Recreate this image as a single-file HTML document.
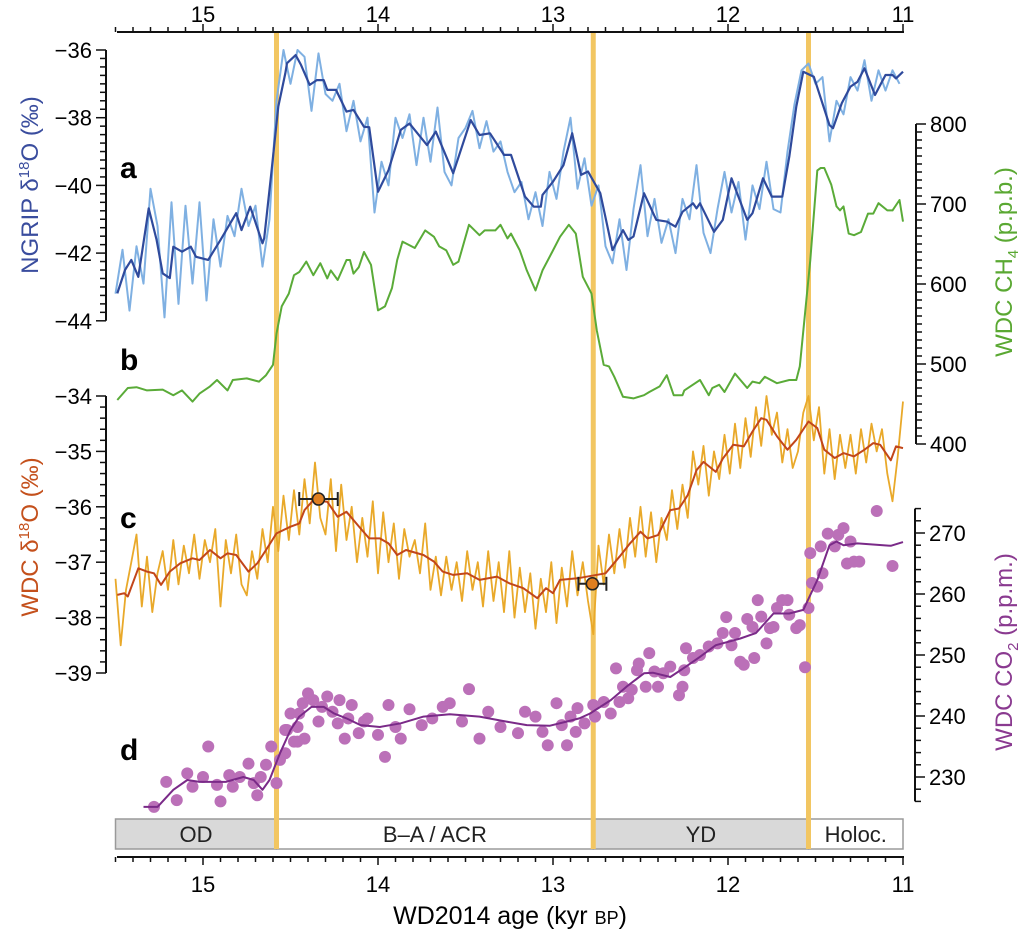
<!DOCTYPE html>
<html><head><meta charset="utf-8">
<style>
body{margin:0;background:#fff;}
svg{display:block;font-family:"Liberation Sans",Arial,sans-serif;}
</style></head>
<body>
<svg id="chart" width="1028" height="942" viewBox="0 0 1028 942" xmlns="http://www.w3.org/2000/svg">
<g id="bg"></g><g id="marks"></g><g id="axes"></g>
<text x="120" y="178" font-size="30" font-weight="bold">a</text>
<text x="120" y="370" font-size="30" font-weight="bold">b</text>
<text x="120" y="528" font-size="30" font-weight="bold">c</text>
<text x="120" y="760" font-size="30" font-weight="bold">d</text>
<text transform="translate(38,185) rotate(-90)" text-anchor="middle" font-size="24" fill="#3a4d9e">NGRIP δ<tspan font-size="15" dy="-9">18</tspan><tspan dy="9">O (‰)</tspan></text>
<text transform="translate(38,537) rotate(-90)" text-anchor="middle" font-size="24" fill="#c4501c">WDC δ<tspan font-size="15" dy="-9">18</tspan><tspan dy="9">O (‰)</tspan></text>
<text transform="translate(1012,262) rotate(-90)" text-anchor="middle" font-size="24" fill="#5aa832">WDC CH<tspan font-size="15" dy="6">4</tspan><tspan dy="-6"> (p.p.b.)</tspan></text>
<text transform="translate(1012,652) rotate(-90)" text-anchor="middle" font-size="24" fill="#8a3a90">WDC CO<tspan font-size="15" dy="6">2</tspan><tspan dy="-6"> (p.p.m.)</tspan></text>
<text x="510" y="924" text-anchor="middle" font-size="25">WD2014 age (kyr <tspan font-size="18">BP</tspan>)</text>
</svg>
<script>
// ---------- data ----------
const ngripSmoothT=[15.49,15.446,15.41,15.37,15.31,15.265,15.23,15.19,15.17,15.12,15.07,15.04,14.97,14.90,14.81,14.78,14.73,14.66,14.65,14.61,14.57,14.53,14.52,14.47,14.44,14.39,14.35,14.31,14.29,14.24,14.18,14.14,14.08,14.05,14.00,13.94,13.87,13.82,13.72,13.67,13.57,13.47,13.42,13.36,13.28,13.24,13.16,13.11,13.07,13.06,13.00,12.94,12.89,12.84,12.80,12.73,12.66,12.60,12.57,12.54,12.48,12.41,12.35,12.30,12.26,12.20,12.18,12.16,12.08,12.03,11.98,11.89,11.86,11.80,11.75,11.69,11.65,11.61,11.57,11.51,11.42,11.40,11.35,11.30,11.26,11.22,11.16,11.10,11.06,11.04,11.00];
const ngripSmoothV=[-43.19,-42.50,-42.20,-42.70,-40.68,-41.61,-42.60,-42.74,-41.81,-41.96,-41.81,-42.11,-42.20,-41.61,-40.82,-41.32,-40.63,-41.71,-41.56,-39.64,-37.67,-36.69,-36.39,-36.15,-36.44,-37.03,-36.89,-36.89,-37.18,-37.18,-37.82,-37.77,-38.27,-38.28,-40.19,-39.55,-38.36,-38.17,-38.81,-38.41,-39.64,-38.07,-38.51,-38.46,-39.10,-39.10,-40.33,-40.63,-40.63,-40.28,-39.89,-39.40,-38.46,-39.69,-39.59,-40.23,-41.91,-41.32,-41.61,-41.51,-40.23,-41.02,-41.07,-41.22,-40.78,-40.53,-40.68,-40.53,-41.37,-41.02,-39.79,-41.02,-40.82,-39.79,-40.33,-40.33,-39.15,-37.67,-36.64,-36.79,-38.22,-38.31,-37.57,-37.08,-36.94,-36.54,-37.33,-36.74,-36.74,-36.84,-36.64];
const ngripRawStart=15.50, ngripRawStep=0.04;
const ngripRawV=[-43.2,-41.9,-43.7,-41.8,-42.9,-40.1,-41.2,-43.9,
-40.5,-43.5,-40.6,-42.9,-40.5,-43.4,-41.0,-42.4,-40.9,-41.5,-40.1,-41.2,-40.6,-42.4,-41.0,
-37.5,-36.0,-37.0,-36.0,-36.2,-37.8,-36.1,-37.3,-37.5,-37.0,-38.4,-37.5,-38.7,-38.0,-40.8,
-39.3,-40.0,-38.0,-38.6,-37.9,-39.4,-38.0,-39.3,-37.7,-39.6,-40.0,-38.6,-38.3,-37.8,-38.9,-38.1,-39.0,-38.7,-39.6,-40.2,-39.9,-41.0,-40.2,-41.2,-39.6,
-40.4,-39.0,-38.0,-40.1,-39.2,-40.6,-40.0,-41.8,-42.3,-41.0,-42.5,-40.7,-39.4,-41.5,-40.4,-41.7,-41.0,-42.0,-40.4,-41.0,-39.4,-41.4,-42.0,-40.7,-39.6,
-40.8,-39.9,-41.6,-40.0,-40.7,-39.3,-40.7,-40.8,-39.0,-37.6,-36.6,-36.4,-37.0,-36.8,-38.7,-37.5,-37.9,-36.8,-37.2,-36.3,-37.5,-36.6,-37.2,-36.6,-37.0];
const ch4T=[15.49,15.43,15.38,15.32,15.23,15.17,15.12,15.06,15.02,14.96,14.92,14.86,14.83,14.75,14.68,14.64,14.60,14.58,14.55,14.51,14.48,14.45,14.41,14.37,14.33,14.29,14.27,14.23,14.18,14.16,14.14,14.11,14.08,14.04,14.00,13.96,13.92,13.89,13.86,13.79,13.73,13.68,13.65,13.61,13.57,13.54,13.48,13.42,13.39,13.33,13.30,13.26,13.24,13.19,13.15,13.10,13.06,13.00,12.96,12.91,12.87,12.83,12.78,12.75,12.71,12.68,12.65,12.60,12.54,12.48,12.45,12.39,12.35,12.31,12.26,12.25,12.16,12.11,12.09,12.05,12.02,11.96,11.89,11.86,11.82,11.79,11.72,11.65,11.61,11.59,11.53,11.49,11.47,11.45,11.41,11.38,11.36,11.34,11.31,11.28,11.24,11.20,11.17,11.14,11.09,11.06,11.02,11.00];
const ch4V=[455,470,471,467,468,461,467,453,463,472,480,467,480,482,478,486,499,538,572,588,611,615,628,611,626,607,617,605,630,630,613,621,640,624,567,572,595,630,653,645,667,659,647,642,624,628,674,661,667,667,674,657,663,642,617,592,617,642,659,674,663,609,588,542,499,497,484,459,457,461,465,472,486,461,461,467,480,461,470,474,465,488,470,478,476,484,476,480,480,497,630,742,745,745,724,697,692,697,663,661,665,688,688,701,692,692,705,678];
const wdcSmoothT=[15.49,15.45,15.43,15.37,15.32,15.28,15.24,15.19,15.13,15.06,15.02,14.96,14.90,14.86,14.81,14.74,14.69,14.64,14.58,14.50,14.45,14.42,14.37,14.29,14.23,14.18,14.10,14.05,13.99,13.94,13.89,13.84,13.74,13.68,13.63,13.57,13.49,13.42,13.32,13.25,13.17,13.09,13.04,13.00,12.96,12.86,12.70,12.62,12.56,12.50,12.46,12.40,12.33,12.28,12.23,12.18,12.14,12.07,12.03,11.97,11.91,11.86,11.81,11.78,11.72,11.66,11.61,11.54,11.49,11.45,11.39,11.34,11.28,11.22,11.17,11.13,11.07,11.04,11.00];
const wdcSmoothV=[-37.59,-37.56,-37.62,-37.11,-37.17,-37.20,-37.41,-37.17,-37.02,-36.93,-36.96,-36.78,-36.93,-36.84,-36.87,-37.17,-37.02,-36.78,-36.48,-36.36,-36.30,-36.06,-35.88,-35.91,-36.18,-36.09,-36.39,-36.57,-36.57,-36.66,-36.87,-36.78,-36.87,-36.99,-37.17,-37.23,-37.20,-37.32,-37.26,-37.38,-37.47,-37.65,-37.47,-37.56,-37.32,-37.29,-37.20,-36.90,-36.66,-36.45,-36.57,-36.51,-36.06,-36.03,-35.79,-35.34,-35.19,-35.37,-35.13,-34.88,-34.91,-34.64,-34.40,-34.43,-34.73,-34.97,-34.79,-34.46,-34.58,-34.97,-35.12,-35.03,-35.09,-34.97,-34.85,-34.88,-35.16,-34.91,-34.94];
const wdcRawStart=15.50, wdcRawStep=0.03;
const wdcRawV=[-37.3,-38.5,-37.5,-37.0,-36.5,-37.8,-36.9,-37.9,-37.2,-36.8,
-37.5,-36.6,-37.4,-36.7,-37.2,-36.5,-37.3,-36.6,-37.0,-36.4,
-37.8,-36.6,-37.2,-36.5,-37.4,-37.6,-36.8,-37.3,-36.4,-37.0,
-36.0,-36.8,-35.8,-36.6,-35.7,-36.5,-35.5,-36.3,-35.2,-36.2,
-36.5,-35.5,-36.8,-35.6,-36.6,-36.0,-37.0,-36.2,-36.9,-35.9,
-37.2,-36.1,-37.0,-36.3,-37.3,-36.4,-36.9,-36.6,-37.2,-36.3,
-37.5,-36.9,-37.6,-36.9,-37.5,-37.0,-37.7,-36.8,-37.5,-37.0,
-37.8,-36.8,-37.7,-37.0,-37.9,-36.8,-38.0,-37.1,-37.9,-37.2,
-38.2,-37.3,-37.9,-37.0,-38.1,-37.1,-37.8,-36.8,-37.6,-37.0,
-37.7,-38.3,-36.7,-37.4,-36.5,-37.2,-36.4,-37.1,-36.2,-36.9,
-36.0,-36.9,-36.1,-37.0,-36.2,-36.6,-35.7,-36.4,-35.6,-36.2,
-35.0,-35.6,-34.9,-35.8,-35.0,-35.5,-34.7,-35.4,-34.5,-35.3,
-34.4,-35.1,-34.2,-34.9,-34.0,-34.7,-34.3,-35.2,-34.6,-35.3,
-35.0,-34.3,-34.0,-34.8,-34.2,-35.4,-34.6,-35.5,-34.7,-35.3,
-34.7,-35.4,-34.6,-35.2,-34.5,-35.0,-34.6,-35.4,-35.9,-35.1,-34.1];
const tiePointT=[14.34,12.775];
const tiePointV=[-35.86,-37.39];
const tiePointErr=[0.11,0.08];
const co2LineT=[15.34,15.26,15.17,15.09,15.02,14.87,14.77,14.71,14.66,14.62,14.56,14.50,14.45,14.38,14.31,14.25,14.18,14.10,13.99,13.87,13.74,13.59,13.42,13.27,13.15,13.02,12.92,12.85,12.79,12.67,12.58,12.48,12.43,12.33,12.24,12.16,12.07,11.93,11.84,11.74,11.65,11.57,11.49,11.42,11.38,11.34,11.26,11.07,11.00];
const co2LineV=[225.1,225.1,227.9,229.5,229.2,229.2,230.0,229.5,227.9,229.5,233.9,237.7,239.9,241.5,241.5,240.4,239.6,238.5,238.2,238.8,239.9,240.3,239.9,239.1,238.5,238.4,239.1,239.6,240.4,242.6,244.8,247.0,247.1,246.4,248.1,249.7,251.6,252.7,253.6,256.8,256.8,257.4,262.3,268.0,268.6,268.0,268.3,267.9,268.5];
const co2DotT=[15.28,15.21,15.15,15.09,15.06,15.00,14.97,14.92,14.90,14.85,14.83,14.79,14.74,14.71,14.69,14.67,14.64,14.61,14.58,14.56,14.53,14.50,14.48,
14.53,14.52,14.46,14.46,14.45,14.42,14.43,14.40,14.37,14.34,14.32,14.29,14.26,14.23,14.22,14.19,14.17,14.15,14.11,14.08,14.06,14.00,13.96,13.94,13.90,13.87,13.82,13.75,13.69,13.63,13.59,13.52,13.48,13.42,13.37,13.30,13.20,13.16,13.10,13.06,13.03,12.98,12.95,12.92,12.90,12.87,12.86,12.82,12.77,
12.76,12.71,12.67,12.64,12.62,12.60,12.57,12.55,12.52,12.51,12.47,12.45,12.42,12.40,12.37,12.33,12.28,12.26,12.24,12.25,12.20,12.16,12.11,12.06,12.03,12.01,11.98,11.96,11.93,11.91,11.89,11.86,11.85,11.83,11.81,11.78,11.76,11.74,11.72,11.69,11.66,11.65,11.61,11.59,11.56,11.54,11.52,11.49,11.53,11.46,11.47,11.43,11.39,11.37,11.34,11.30,11.32,11.28,11.25,11.15,11.06];
const co2DotV=[225.1,229.2,226.2,230.6,228.4,230.0,235.0,228.7,226.0,230.3,228.4,230.0,232.2,229.0,227.0,230.0,232.0,235.0,229.0,232.8,237.7,240.4,235.8,
233.9,237.7,235.8,238.2,240.4,236.3,242.1,243.7,242.6,239.1,241.5,243.2,240.7,238.8,242.6,236.3,239.6,241.8,237.2,239.1,239.6,236.9,233.3,241.8,238.2,236.3,241.1,238.5,239.6,241.5,242.1,239.1,244.4,236.3,240.7,238.2,237.2,240.7,239.9,237.4,235.2,242.1,238.5,235.2,239.9,237.4,241.3,238.8,241.8,
239.9,242.3,240.4,247.8,242.3,244.8,242.9,244.3,247.5,248.6,244.8,250.3,247.3,244.8,247.0,248.1,243.4,244.8,251.1,247.5,249.5,250.0,251.4,251.9,253.6,256.2,251.6,253.6,248.9,248.4,255.9,254.6,249.5,259.0,256.3,251.9,254.4,254.6,257.7,259.0,259.0,256.6,254.4,254.9,248.0,257.7,261.8,261.2,266.7,263.4,267.8,269.9,267.8,269.7,270.8,268.6,265.0,265.3,265.3,273.6,264.6];
const transitionT=[14.58,12.77,11.54];
const periodNames=["OD","B–A / ACR","YD","Holoc."];
const periodStart=[15.5,14.58,12.77,11.54];
const periodEnd=[14.58,12.77,11.54,11.0];
const xTickLabels=[15,14,13,12,11];
const ngripTicks=[-36,-38,-40,-42,-44];
const wdcTicks=[-34,-35,-36,-37,-38,-39];
const ch4Ticks=[800,700,600,500,400];
const co2Ticks=[270,260,250,240,230];

// ---------- scales ----------
const X=t=>903-(t-11)*175;
const YA=v=>50+(-36-v)*33.85;
const YB=v=>124+(800-v)*0.8;
const YC=v=>396+(-34-v)*55.4;
const YD=v=>533+(270-v)*6.1;
const NS="http://www.w3.org/2000/svg";
function mk(tag,parent,attrs){const e=document.createElementNS(NS,tag);for(const k in attrs)e.setAttribute(k,attrs[k]);parent.appendChild(e);return e;}
const bg=document.getElementById('bg'),marks=document.getElementById('marks'),axes=document.getElementById('axes');

// period bar
periodNames.forEach((n,i)=>{
  const r=mk('rect',bg,{x:X(periodStart[i]),y:819,width:X(periodEnd[i])-X(periodStart[i]),height:30,fill:(i%2==0)?'#d9d9d9':'#fff',stroke:'#9a9a9a','stroke-width':1.5});
  
  
  const tx=mk('text',bg,{x:(X(periodStart[i])+X(periodEnd[i]))/2,y:842,'text-anchor':'middle','font-size':22,fill:'#222'});
  tx.textContent=n;
  
  
});
// transitions
transitionT.forEach(t=>{
  const l=mk('line',bg,{x1:X(t),x2:X(t),y1:32,y2:849,stroke:'#f2c662','stroke-width':5});
  
  
});

function poly(ts,vs,ys,color,w,name){
  const p=mk('polyline',marks,{points:ts.map((t,i)=>X(t).toFixed(1)+','+ys(vs[i]).toFixed(1)).join(' '),fill:'none',stroke:color,'stroke-width':w,'stroke-linejoin':'round'});
  
  
}
const ngripRawT=ngripRawV.map((v,i)=>ngripRawStart-i*ngripRawStep);
const wdcRawT=wdcRawV.map((v,i)=>wdcRawStart-i*wdcRawStep);
poly(ngripRawT,ngripRawV,YA,'#7fb0e2',2,'ngrip-raw-line');
poly(ngripSmoothT,ngripSmoothV,YA,'#2f4a9c',2.2,'ngrip-smooth-line');
poly(ch4T,ch4V,YB,'#5aab38',2,'ch4-line');
poly(wdcRawT,wdcRawV,YC,'#e9a92a',1.8,'wdc-raw-line');
poly(wdcSmoothT,wdcSmoothV,YC,'#c2461a',2,'wdc-smooth-line');
co2DotT.forEach((t,i)=>{
  const c=mk('circle',marks,{cx:X(t),cy:YD(co2DotV[i]),r:6,fill:'#bb70b8'});
  
  
});
poly(co2LineT,co2LineV,YD,'#7a2a88',2,'co2-spline-line');
tiePointT.forEach((t,i)=>{
  const g=mk('g',marks,{});
  
  
  const y=YC(tiePointV[i]),x1=X(t+tiePointErr[i]),x2=X(t-tiePointErr[i]);
  mk('line',g,{x1:x1,x2:x2,y1:y,y2:y,stroke:'#222','stroke-width':2});
  mk('line',g,{x1:x1,x2:x1,y1:y-7,y2:y+7,stroke:'#222','stroke-width':2});
  mk('line',g,{x1:x2,x2:x2,y1:y-7,y2:y+7,stroke:'#222','stroke-width':2});
  mk('circle',g,{cx:X(t),cy:y,r:6,fill:'#e07f20',stroke:'#222','stroke-width':1.5});
});

// axes
function hAxis(y,dir,labelY,name){
  const g=mk('g',axes,{});
  
  
  mk('line',g,{x1:117,x2:904,y1:y,y2:y,stroke:'#111','stroke-width':2});
  for(let k=0;k<=45;k++){const t=15.5-k*0.1;const maj=Math.abs(t-Math.round(t))<0.01;
    mk('line',g,{x1:X(t),x2:X(t),y1:y,y2:y+dir*(maj?8:5),stroke:'#111','stroke-width':1.5});}
  xTickLabels.forEach(v=>{const tx=mk('text',g,{x:X(v),y:labelY,'text-anchor':'middle','font-size':22});tx.textContent=v;});
}
hAxis(32,-1,22,'top-x-axis');
hAxis(857,1,892,'bottom-x-axis');
function vAxis(x,dir,ys,vmin,vmax,minor,ticks,name,labelDx,anchor){
  const g=mk('g',axes,{});
  
  
  mk('line',g,{x1:x,x2:x,y1:ys(vmax),y2:ys(vmin),stroke:'#111','stroke-width':2});
  const n=Math.round((vmax-vmin)/minor);
  for(let k=0;k<=n;k++){const v=vmin+k*minor;const maj=ticks.some(t=>Math.abs(t-v)<1e-6);
    mk('line',g,{x1:x,x2:x+dir*(maj?10:6),y1:ys(v),y2:ys(v),stroke:'#111','stroke-width':1.5});}
  ticks.forEach(v=>{const tx=mk('text',g,{x:x+labelDx,y:ys(v)+8,'text-anchor':anchor,'font-size':22});tx.textContent=String(v).replace('-','\u2212');});
}
vAxis(106,-1,YA,-44,-36,0.25,ngripTicks,'ngrip-y-axis',-14,'end');
vAxis(106,-1,YC,-39,-34,0.2,wdcTicks,'wdc-d18o-y-axis',-14,'end');
vAxis(916,1,YB,400,800,10,ch4Ticks,'ch4-y-axis',14,'start');
vAxis(915,1,YD,226,274,2,co2Ticks,'co2-y-axis',14,'start');
</script>
</body></html>
